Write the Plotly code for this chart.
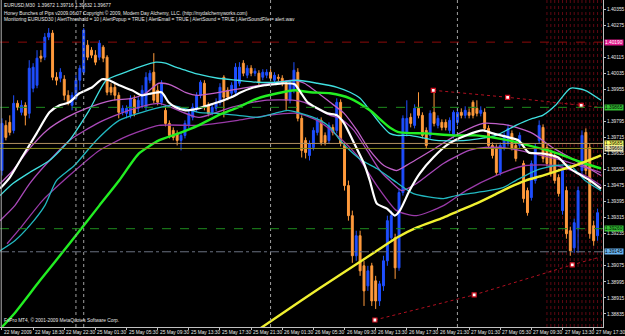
import plotly.graph_objects as go

# ---------------- data ----------------
OPEN = [1.39550,1.39775,1.39790,1.39750,1.39885,1.39840,1.39875,1.39835,1.39960,1.39975,
        1.40120,1.40115,1.40215,1.40235,1.40015,1.40010,1.40005,1.39925,1.39875,1.39910,
        1.40000,1.40040,1.40175,1.40150,1.40125,1.40115,1.40165,1.40115,1.39965,1.39965,
        1.39925,1.39840,1.39835,1.39825,1.39905,1.39860,1.39875,1.39865,1.40000,1.40040,
        1.39950,1.39890,1.39850,1.39785,1.39750,1.39735,1.39700,1.39725,1.39775,1.39815,
        1.39860,1.39925,1.39985,1.39875,1.39840,1.39860,1.39890,1.40015,1.39950,1.39935,
        1.39940,1.39985,1.40085,1.40025,1.40060,1.40035,1.40035,1.40015,1.40025,1.40040,
        1.40000,1.40015,1.40010,1.39985,1.39900,1.39950,1.40040,1.39810,1.39700,1.39625,
        1.39665,1.39740,1.39800,1.39725,1.39700,1.39765,1.39750,1.39890,1.39675,1.39475,
        1.39325,1.39125,1.39225,1.39075,1.38975,1.39075,1.39000,1.38900,1.38975,1.39100,
        1.39215,1.39215,1.39065,1.39440,1.39735,1.39815,1.39775,1.39860,1.39825,1.39750,
        1.39725,1.39840,1.39775,1.39790,1.39790,1.39750,1.39725,1.39790,1.39840,1.39825,
        1.39840,1.39890,1.39860,1.39835,1.39840,1.39760,1.39675,1.39665,1.39540,1.39660,
        1.39685,1.39735,1.39675,1.39675,1.39585,1.39450,1.39415,1.39500,1.39700,1.39765,
        1.39665,1.39640,1.39625,1.39515,1.39350,1.39450,1.39250,1.39165,1.39260,1.39550,
        1.39740,1.39665,1.39275,1.39225]
HIGH = [1.39810,1.39800,1.39825,1.39925,1.39900,1.39900,1.39890,1.40100,1.40085,1.40150,
        1.40150,1.40235,1.40260,1.40250,1.40040,1.40060,1.40025,1.39950,1.39940,1.40025,
        1.40075,1.40260,1.40200,1.40165,1.40150,1.40200,1.40175,1.40125,1.39985,1.39985,
        1.39940,1.39875,1.39875,1.39925,1.39925,1.39915,1.39975,1.40040,1.40050,1.40135,
        1.39975,1.40000,1.39875,1.39800,1.39765,1.39750,1.39740,1.39800,1.39850,1.39885,
        1.39940,1.40000,1.40000,1.39890,1.39880,1.39910,1.39985,1.40025,1.39965,1.39990,
        1.40085,1.40090,1.40100,1.40075,1.40075,1.40060,1.40050,1.40055,1.40055,1.40055,
        1.40040,1.40030,1.40025,1.40000,1.40000,1.40090,1.40060,1.39825,1.39715,1.39700,
        1.39765,1.39815,1.39815,1.39740,1.39790,1.39780,1.39910,1.39905,1.39690,1.39500,
        1.39350,1.39250,1.39250,1.39100,1.39075,1.39090,1.39025,1.39000,1.39125,1.39325,
        1.39350,1.39235,1.39460,1.39825,1.39900,1.39835,1.39880,1.39940,1.39840,1.39765,
        1.39850,1.39950,1.39825,1.39805,1.39805,1.39815,1.39850,1.39860,1.39860,1.39870,
        1.39860,1.39900,1.39900,1.39870,1.39860,1.39775,1.39690,1.39680,1.39690,1.39740,
        1.39780,1.39750,1.39690,1.39740,1.39600,1.39465,1.39600,1.39685,1.39800,1.39780,
        1.39680,1.39655,1.39640,1.39530,1.39570,1.39470,1.39270,1.39310,1.39470,1.39750,
        1.39760,1.39685,1.39300,1.39360]
LOW  = [1.39525,1.39700,1.39725,1.39735,1.39850,1.39825,1.39775,1.39810,1.39940,1.39960,
        1.40090,1.40100,1.40200,1.40000,1.39975,1.39990,1.39900,1.39875,1.39850,1.39900,
        1.39950,1.40025,1.40100,1.40110,1.40075,1.40100,1.40090,1.39925,1.39925,1.39900,
        1.39810,1.39825,1.39810,1.39810,1.39820,1.39840,1.39860,1.39850,1.39985,1.39885,
        1.39875,1.39875,1.39770,1.39710,1.39700,1.39675,1.39650,1.39710,1.39760,1.39800,
        1.39840,1.39910,1.39850,1.39820,1.39825,1.39845,1.39875,1.39815,1.39900,1.39920,
        1.39925,1.39970,1.40020,1.40010,1.40020,1.40020,1.39975,1.40000,1.40010,1.39995,
        1.39985,1.39995,1.39970,1.39850,1.39885,1.39935,1.39795,1.39615,1.39610,1.39600,
        1.39650,1.39725,1.39675,1.39675,1.39685,1.39725,1.39735,1.39670,1.39450,1.39300,
        1.39090,1.39100,1.39025,1.38875,1.38950,1.38875,1.38860,1.38875,1.38950,1.39075,
        1.39200,1.39010,1.39050,1.39425,1.39720,1.39765,1.39760,1.39810,1.39710,1.39660,
        1.39710,1.39770,1.39760,1.39750,1.39750,1.39735,1.39710,1.39775,1.39810,1.39810,
        1.39810,1.39810,1.39820,1.39820,1.39745,1.39660,1.39610,1.39525,1.39525,1.39650,
        1.39670,1.39650,1.39595,1.39660,1.39390,1.39325,1.39400,1.39485,1.39685,1.39590,
        1.39570,1.39520,1.39485,1.39420,1.39330,1.39210,1.39125,1.39140,1.39140,1.39525,
        1.39530,1.39210,1.39175,1.39200]
CLOSE = [1.39785,1.39715,1.39740,1.39885,1.39865,1.39875,1.39825,1.40060,1.40065,1.40110,
         1.40110,1.40215,1.40235,1.40015,1.40000,1.40040,1.39925,1.39890,1.39925,1.40000,
         1.40060,1.40250,1.40115,1.40125,1.40090,1.40185,1.40110,1.39940,1.39940,1.39925,
         1.39840,1.39860,1.39860,1.39910,1.39835,1.39900,1.39950,1.40015,1.40035,1.39900,
         1.39890,1.39985,1.39785,1.39725,1.39715,1.39700,1.39725,1.39785,1.39835,1.39865,
         1.39925,1.39990,1.39865,1.39835,1.39865,1.39890,1.39965,1.39915,1.39915,1.39975,
         1.40065,1.40065,1.40035,1.40060,1.40035,1.40045,1.39990,1.40040,1.40040,1.40010,
         1.40025,1.40010,1.39985,1.39900,1.39985,1.40050,1.39810,1.39650,1.39640,1.39685,
         1.39750,1.39800,1.39690,1.39690,1.39775,1.39740,1.39890,1.39685,1.39475,1.39325,
         1.39125,1.39225,1.39050,1.38950,1.39050,1.38900,1.38900,1.38985,1.39100,1.39300,
         1.39325,1.39065,1.39440,1.39810,1.39810,1.39785,1.39860,1.39825,1.39725,1.39675,
         1.39835,1.39785,1.39810,1.39765,1.39765,1.39800,1.39840,1.39840,1.39825,1.39850,
         1.39825,1.39825,1.39835,1.39850,1.39760,1.39675,1.39625,1.39540,1.39675,1.39725,
         1.39760,1.39660,1.39610,1.39725,1.39410,1.39340,1.39585,1.39665,1.39775,1.39610,
         1.39585,1.39535,1.39500,1.39435,1.39550,1.39235,1.39150,1.39290,1.39450,1.39725,
         1.39550,1.39235,1.39200,1.39340]

# indicator lines: (bar index, price)
WHITE = [(-0.5,1.39460),(2.0,1.39515),(5.4,1.39625),(8.9,1.39735),(12.2,1.39840),(14.8,1.39875),
         (17.3,1.39890),(19.9,1.39935),(23.2,1.39965),(25.7,1.40005),(27.5,1.40000),(30.1,1.39975),
         (33.4,1.39950),(35.9,1.39925),(38.5,1.39935),(41.0,1.39940),(42.8,1.39890),(44.6,1.39865),
         (47.1,1.39850),(50.5,1.39860),(53.0,1.39875),(55.5,1.39890),(58.9,1.39915),(61.4,1.39940),
         (64.0,1.39960),(67.5,1.39975),(70.1,1.39980),(72.6,1.39985),(75.2,1.39980),(76.7,1.39940),
         (78.5,1.39890),(81.0,1.39860),(83.6,1.39835),(86.1,1.39825),(87.9,1.39785),(90.5,1.39685),
         (93.0,1.39585),(94.5,1.39500),(96.3,1.39385),(98.9,1.39360),(100.9,1.39325),(102.2,1.39350),
         (104.7,1.39450),(107.3,1.39535),(110.8,1.39615),(114.9,1.39685),(119.2,1.39725),(123.6,1.39750),
         (126.1,1.39735),(130.2,1.39715),(132.7,1.39700),(135.3,1.39640),(138.9,1.39635),(142.9,1.39615),
         (145.5,1.39565),(148.0,1.39535),(151.1,1.39500),(153.9,1.39460)]
GREEN = [(0.0,1.38770),(3.3,1.38840),(9.7,1.39000),(17.3,1.39185),(25.0,1.39375),(30.1,1.39500),
         (35.2,1.39635),(40.3,1.39700),(45.4,1.39735),(50.5,1.39775),(55.5,1.39825),(60.6,1.39865),
         (65.7,1.39910),(70.8,1.39935),(75.2,1.39950),(79.2,1.39940),(84.3,1.39935),(89.4,1.39910),
         (94.5,1.39850),(99.6,1.39765),(102.2,1.39740),(109.0,1.39735),(115.9,1.39725),(121.8,1.39725),
         (130.2,1.39700),(135.3,1.39675),(140.4,1.39650),(145.5,1.39615),(149.8,1.39585),(153.9,1.39560)]
YELLOW = [(66.5,1.38765),(76.7,1.38900),(86.1,1.39020),(96.3,1.39150),(101.4,1.39215),(106.5,1.39265),
          (113.4,1.39315),(117.5,1.39350),(121.8,1.39385),(126.1,1.39425),(130.2,1.39465),(134.5,1.39500),
          (138.9,1.39525),(142.9,1.39550),(147.3,1.39575),(153.9,1.39625)]
CYAN_UP = [(-0.5,1.39425),(2.8,1.39485),(7.1,1.39540),(12.2,1.39600),(17.3,1.39700),(22.4,1.39850),
           (26.8,1.40000),(31.8,1.40040),(35.2,1.40065),(39.5,1.40090),(42.0,1.40085),(44.6,1.40065),
           (47.1,1.40050),(50.4,1.40030),(55.5,1.40010),(60.6,1.40000),(65.7,1.39990),(70.8,1.39990),
           (75.9,1.40000),(81.0,1.39985),(86.1,1.39965),(89.4,1.39940),(92.0,1.39910),(94.5,1.39850),
           (97.1,1.39785),(99.6,1.39735),(101.4,1.39725),(104.7,1.39725),(111.6,1.39700),(119.2,1.39700),
           (126.9,1.39725),(132.0,1.39775),(136.3,1.39810),(138.9,1.39825),(142.2,1.39875),(146.0,1.39960),
           (149.8,1.39950),(153.9,1.39900)]
CYAN_LOW = [(-0.5,1.39150),(3.3,1.39200),(7.1,1.39275),(11.0,1.39375),(14.0,1.39500),(18.6,1.39575),
            (24.2,1.39700),(30.1,1.39800),(39.5,1.39860),(43.6,1.39875),(50.4,1.39840),(55.5,1.39835),
            (60.6,1.39825),(65.7,1.39815),(70.1,1.39835),(73.4,1.39850),(75.9,1.39840),(78.5,1.39825),
            (81.8,1.39800),(84.3,1.39765),(86.9,1.39700),(89.4,1.39650),(92.5,1.39600),(96.3,1.39560),
            (101.4,1.39490),(105.7,1.39435),(113.4,1.39410),(116.7,1.39425),(121.8,1.39440),(128.7,1.39465),
            (132.0,1.39500),(137.1,1.39550),(142.2,1.39575),(146.0,1.39575),(149.8,1.39500),(153.9,1.39450)]
MAG_UP = [(-0.5,1.39485),(2.8,1.39550),(7.1,1.39660),(11.5,1.39750),(16.6,1.39815),(21.7,1.39860),
          (28.3,1.39900),(33.4,1.39910),(36.9,1.39935),(40.3,1.39985),(43.6,1.39975),(47.1,1.39940),
          (50.4,1.39925),(63.2,1.39965),(75.2,1.40000),(77.7,1.39985),(84.3,1.39890),(87.9,1.39835),
          (91.2,1.39750),(94.5,1.39650),(98.1,1.39575),(101.4,1.39550),(104.7,1.39585),(111.6,1.39665),
          (117.5,1.39735),(123.6,1.39785),(130.2,1.39775),(136.3,1.39735),(141.4,1.39665),(147.3,1.39600),
          (153.9,1.39525)]
MAG_MID = [(-0.5,1.39300),(3.3,1.39375),(7.1,1.39485),(12.2,1.39600),(17.3,1.39700),(25.0,1.39790),
           (32.6,1.39850),(40.3,1.39885),(50.4,1.39815),(58.9,1.39865),(67.5,1.39900),(75.2,1.39900),
           (77.7,1.39890),(84.3,1.39825),(86.9,1.39810),(90.4,1.39750),(93.8,1.39650),(97.1,1.39550),
           (99.6,1.39500),(102.7,1.39450),(106.5,1.39485),(113.4,1.39585),(120.0,1.39650),(124.3,1.39665),
           (130.2,1.39660),(136.3,1.39635),(143.9,1.39600),(153.9,1.39540)]
MAG_LOW = [(1.3,1.39185),(4.6,1.39260),(10.4,1.39400),(17.3,1.39525),(25.0,1.39650),(32.6,1.39725),
           (40.3,1.39775),(50.4,1.39775),(60.6,1.39800),(68.3,1.39825),(75.9,1.39835),(81.0,1.39800),
           (86.1,1.39725),(91.2,1.39625),(96.3,1.39475),(101.4,1.39350),(106.5,1.39325),(113.4,1.39375),
           (119.2,1.39450),(126.9,1.39525),(134.5,1.39575),(142.2,1.39575),(149.8,1.39525),(153.9,1.39475)]
TREND_UP = [(110.8,1.39950),(129.9,1.39915),(148.8,1.39875),(153.9,1.39865)]
TREND_LOW = [(95.8,1.38805),(121.3,1.38930),(146.5,1.39080),(153.9,1.39120)]

# horizontal levels: (price, colour, dash, label background, label text colour)
LEVELS = [(1.40190, "#8b0a0a", "dash", "#e0168a", "white"),
          (1.39865, "#1e8c1e", "dash", "#33c033", "black"),
          (1.39685, "#b09060", "solid", "#ffff66", "black"),
          (1.39660, "#8a8a20", "solid", "#e8e0b0", "black"),
          (1.39260, "#1e8c1e", "dash", "#33c033", "black"),
          (1.39145, "#6a7080", "dashdot", "#6ab4f0", "black")]
VLINES = [19, 21, 69, 117]
RED_GRID = list(range(140, 155))

TICK_BARS = list(range(0, 153, 8))
TICK_TEXT = ["22 May 2009", "22 May 18:30", "22 May 22:30", "25 May 01:30", "25 May 05:30",
             "25 May 09:30", "25 May 13:30", "25 May 17:30", "25 May 21:30", "26 May 01:30",
             "26 May 05:30", "26 May 09:30", "26 May 13:30", "26 May 17:30", "26 May 21:30",
             "27 May 01:30", "27 May 05:30", "27 May 09:30", "27 May 13:30", "27 May 17:30"]
PRICE_TICKS = [1.40355, 1.40275, 1.40195, 1.40115, 1.40035, 1.39955, 1.39875, 1.39795, 1.39715,
               1.39635, 1.39555, 1.39475, 1.39395, 1.39315, 1.39235, 1.39155, 1.39075, 1.38995,
               1.38915, 1.38835]
HEADER = ["EURUSD,M30  1.39672 1.39716 1.39632 1.39677",
          "Honey Bunches of Pips v2009.06.07 Copyright \u00a9 2009, Modern Day Alchemy, LLC. (http://mydalchemyworks.com)",
          "Monitoring EURUSD30 | AlertThreshold = 10 | AlertPopup = TRUE | AlertEmail = TRUE | AlertSound = TRUE | AlertSoundFile = alert.wav"]
FOOTER = "FxPro MT4, \u00a9 2001-2009 MetaQuotes Software Corp."

BLUE = "#1f4fff"
ORANGE = "#ff9a3c"
FONT = "Liberation Sans"
FS = 4.8

# price ticks hidden where a level label sits on top of them
level_prices = [lv[0] for lv in LEVELS]
shown_ticks = [t for t in PRICE_TICKS if min(abs(t - p) for p in level_prices) > 0.00022]

fig = go.Figure()

for b in RED_GRID:
    fig.add_vline(x=b, line=dict(color="#5e0812", width=1, dash="dot"), layer="below")
for b in VLINES:
    fig.add_vline(x=b, line=dict(color="#a0a0a0", width=1, dash="dot"))
for p, c, d, bg, tc in LEVELS:
    fig.add_hline(y=p, line=dict(color=c, width=1, dash=d))

fig.add_trace(go.Candlestick(
    x=list(range(len(OPEN))), open=OPEN, high=HIGH, low=LOW, close=CLOSE,
    increasing=dict(line=dict(color=BLUE, width=1), fillcolor=BLUE),
    decreasing=dict(line=dict(color=ORANGE, width=1), fillcolor=ORANGE),
    whiskerwidth=0, hoverinfo="skip"))

def line(pts, color, width, shape="spline"):
    xs, ys = zip(*pts)
    fig.add_trace(go.Scatter(x=xs, y=ys, mode="lines", hoverinfo="skip",
                             line=dict(color=color, width=width, shape=shape, smoothing=0.6)))

line(MAG_LOW, "#9a3aa8", 1.3)
line(MAG_MID, "#a848b8", 1.3)
line(MAG_UP, "#c060c8", 1.3)
line(CYAN_LOW, "#22b8c0", 1.3)
line(CYAN_UP, "#40e0e0", 1.3)
line(GREEN, "#22ee22", 2.4)
line(YELLOW, "#f0f030", 2.4)
line(WHITE, "#ffffff", 2.2)

for pts in (TREND_UP, TREND_LOW):
    xs, ys = zip(*pts)
    fig.add_trace(go.Scatter(x=xs, y=ys, mode="lines", hoverinfo="skip",
                             line=dict(color="#b01020", width=1, dash="dot")))
    fig.add_trace(go.Scatter(x=xs[:-1], y=ys[:-1], mode="markers", hoverinfo="skip",
                             marker=dict(size=4, color="white", line=dict(color="#d01020", width=1.2),
                                         symbol="square")))

annotations = []
for i, t in enumerate(HEADER):
    annotations.append(dict(xref="paper", yref="paper", x=0.004, y=1, yshift=-1 - 7 * i,
                            xanchor="left", yanchor="top", text=t, showarrow=False,
                            font=dict(family=FONT, size=FS, color="#e8e8e8")))
annotations.append(dict(xref="paper", yref="paper", x=0.004, y=0, yshift=2, xanchor="left",
                        yanchor="bottom", text=FOOTER, showarrow=False,
                        font=dict(family=FONT, size=FS, color="#e8e8e8")))
for b, t in zip(TICK_BARS, TICK_TEXT):
    annotations.append(dict(xref="x", yref="paper", x=b, y=0, yshift=-1, xanchor="left",
                            yanchor="top", text=t, showarrow=False,
                            font=dict(family=FONT, size=FS, color="#e8e8e8")))
for p, c, d, bg, tc in LEVELS:
    annotations.append(dict(xref="paper", yref="y", x=1, xshift=1, y=p, xanchor="left",
                            yanchor="middle", text=f"{p:.5f}", showarrow=False, bgcolor=bg,
                            borderpad=0, font=dict(family=FONT, size=FS, color=tc)))

fig.update_layout(
    width=625, height=336, margin=dict(l=0, r=17, t=0, b=9),
    paper_bgcolor="black", plot_bgcolor="black", showlegend=False,
    annotations=annotations,
    xaxis=dict(range=[-0.51, 154.4], showgrid=False, zeroline=False, showticklabels=False,
               tickvals=TICK_BARS, ticks="outside", ticklen=2, tickcolor="#c0c0c0",
               showline=True, linecolor="#c0c0c0", linewidth=1, mirror=False,
               rangeslider=dict(visible=False), fixedrange=True),
    yaxis=dict(side="right", range=[1.38770, 1.40400], showgrid=False, zeroline=False,
               tickvals=shown_ticks, ticktext=[f"{v:.5f}" for v in shown_ticks],
               ticks="outside", ticklen=2, tickcolor="#c0c0c0",
               tickfont=dict(family=FONT, size=FS, color="#e8e8e8"),
               showline=True, linecolor="#c0c0c0", linewidth=1, fixedrange=True),
)
fig.add_shape(type="line", xref="paper", yref="paper", x0=0.002, x1=0.002, y0=0, y1=1,
              line=dict(color="#b0b0b0", width=1))

fig.write_html("out.html", config={"displayModeBar": False})
